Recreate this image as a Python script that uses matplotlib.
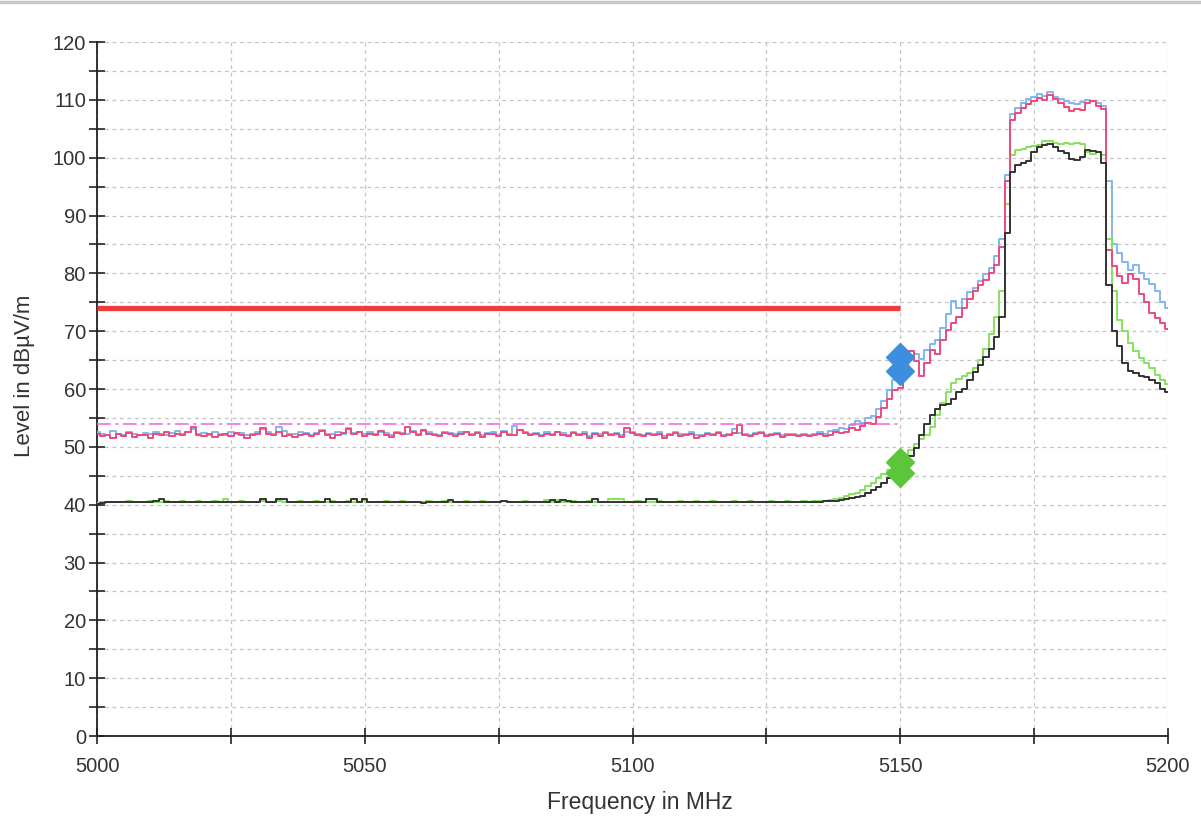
import matplotlib.pyplot as plt
from matplotlib.lines import Line2D
from matplotlib.ticker import MultipleLocator

plt.rcParams['font.family'] = ['Liberation Sans', 'DejaVu Sans']

# frequency grid, 1 MHz steps
freq = list(range(5000, 5201))

# peak trace (pink)
peak_pink = [
    52.3, 51.8, 52.0, 51.6, 52.2, 51.9, 52.4, 51.7, 52.1, 52.0,
    51.6, 52.3, 52.0, 52.5, 51.8, 52.2, 52.0, 52.6, 53.4, 52.1,
    51.9, 52.3, 51.7, 52.0, 52.2, 51.8, 52.4, 52.1, 51.6, 52.0,
    52.3, 53.2, 52.2, 52.0, 52.6, 51.8, 52.1, 51.7, 52.0, 52.3,
    51.8, 52.2, 52.7, 52.0, 51.6, 52.1, 52.4, 53.0, 52.2, 52.5,
    51.9, 52.3, 52.0, 52.8, 52.1, 51.7, 52.4, 52.2, 53.4, 52.6,
    52.1, 52.9, 52.3, 52.0, 51.8, 52.4, 52.2, 51.9, 52.3, 52.5,
    52.0, 52.4, 51.7, 52.2, 52.3, 51.8, 52.6, 52.0, 52.1, 52.9,
    52.4, 52.0, 52.2, 51.8, 52.3, 52.0, 52.5, 52.1, 51.9, 52.4,
    52.0, 52.3, 51.6, 52.2, 51.9, 52.4, 52.0, 52.2, 51.7, 53.3,
    52.4, 52.1, 51.8, 52.2, 52.0, 52.3, 51.6, 52.1, 52.4, 51.9,
    52.1, 52.3, 51.6, 51.9, 52.2, 52.0, 52.4, 51.8, 52.1, 52.4,
    53.8, 52.0, 51.8, 52.2, 52.4, 51.9, 52.0, 52.2, 51.7, 52.1,
    52.0, 51.8, 52.1, 51.9, 52.0, 52.3, 51.9, 52.1, 52.5, 52.4,
    52.6, 53.3, 52.9, 53.6, 54.2, 54.0, 55.2, 56.8, 58.3, 59.9,
    60.2, 62.5, 66.5, 64.8, 62.3, 64.5, 66.8, 66.0, 68.5, 70.2,
    71.5, 72.5, 74.0, 75.5, 77.0, 78.0, 78.8, 80.0, 81.5, 84.5,
    96.0, 106.5, 107.8, 108.6, 109.2, 109.8, 110.3, 110.0, 110.8, 110.2,
    109.5, 108.8, 108.0, 108.4, 108.2, 109.5, 109.8, 109.0, 108.5, 84.0,
    81.2, 79.5, 78.3, 79.8, 79.0, 76.5, 75.0, 73.2, 72.3, 71.5,
    70.3,
]

# max-hold trace (light blue)
peak_blue = [
    52.6, 52.3, 52.1, 52.8, 52.2, 52.0, 52.5, 52.3, 52.1, 52.4,
    52.2, 52.6, 52.3, 52.0, 52.4, 52.8, 52.3, 52.5, 53.0, 52.2,
    52.4, 52.1, 52.5, 52.3, 52.0, 52.6, 52.2, 52.4, 52.1, 52.3,
    52.5, 53.0, 52.6, 52.2, 53.5, 52.7, 52.3, 52.2, 52.5, 52.4,
    52.1, 52.4, 52.9, 52.3, 52.2, 52.5, 52.3, 53.3, 52.4, 52.6,
    52.2, 52.5, 52.3, 52.6, 52.4, 52.0, 52.6, 52.4, 52.3, 52.7,
    52.3, 52.8, 52.5, 52.2, 52.1, 52.6, 52.4, 52.2, 52.5, 52.6,
    52.2, 52.5, 52.0, 52.4, 52.5, 52.1, 52.8, 52.3, 53.6, 52.9,
    52.5, 52.2, 52.4, 52.1, 52.5, 52.3, 52.6, 52.4, 52.1, 52.5,
    52.3, 52.5, 51.9, 52.4, 52.2, 52.6, 52.2, 52.4, 52.0, 52.5,
    52.6, 52.3, 52.0, 52.4, 52.2, 52.5, 51.9, 52.3, 52.6, 52.2,
    52.3, 52.5, 52.0, 52.1, 52.4, 52.2, 52.6, 52.1, 52.3, 53.0,
    52.4, 52.2, 52.0, 52.4, 52.6, 52.1, 52.2, 52.4, 52.0, 52.3,
    52.2, 52.0, 52.3, 52.1, 52.2, 52.5, 52.2, 52.7, 52.9, 53.2,
    53.0, 53.8, 54.5, 54.2, 55.0, 55.4, 56.5, 58.0, 59.8, 61.5,
    62.5, 64.0, 65.5, 66.0, 65.2, 66.8, 67.8, 68.5, 70.5, 73.0,
    75.2, 74.0, 75.5, 76.8, 77.5, 78.6, 79.8, 81.0, 83.0, 86.0,
    97.0, 107.5, 108.6, 109.5, 110.2, 110.5, 111.0, 110.6, 111.3, 110.5,
    110.2, 109.8, 109.5, 109.2, 109.6, 110.0, 109.8, 109.4, 109.0, 96.0,
    85.0, 83.5, 82.0, 80.5, 81.5, 80.0, 79.0, 78.2, 77.0, 75.0,
    74.0,
]

# average trace (light green)
avg_green = [
    40.3, 40.4, 40.4, 40.5, 40.5, 40.5, 40.6, 40.5, 40.5, 40.5,
    40.6, 40.5, 40.5, 40.6, 40.5, 40.5, 40.6, 40.5, 40.5, 40.6,
    40.5, 40.5, 40.6, 40.5, 40.9, 40.5, 40.5, 40.6, 40.5, 40.5,
    40.5, 40.6, 40.5, 40.5, 40.6, 40.5, 40.5, 40.5, 40.6, 40.5,
    40.5, 40.6, 40.5, 40.5, 40.6, 40.5, 40.5, 40.6, 40.5, 40.5,
    40.6, 40.5, 40.5, 40.5, 40.6, 40.5, 40.5, 40.6, 40.5, 40.5,
    40.5, 40.5, 40.6, 40.5, 40.5, 40.6, 40.5, 40.5, 40.5, 40.6,
    40.5, 40.5, 40.6, 40.5, 40.5, 40.5, 40.6, 40.5, 40.5, 40.5,
    40.6, 40.5, 40.5, 40.5, 40.8, 40.5, 40.8, 40.5, 40.5, 40.6,
    40.5, 40.5, 40.6, 40.5, 40.5, 40.5, 40.9, 40.9, 40.9, 40.5,
    40.5, 40.6, 40.5, 40.5, 40.5, 40.6, 40.5, 40.5, 40.5, 40.6,
    40.5, 40.5, 40.6, 40.5, 40.5, 40.6, 40.5, 40.5, 40.5, 40.6,
    40.5, 40.5, 40.6, 40.5, 40.5, 40.5, 40.6, 40.5, 40.5, 40.6,
    40.5, 40.5, 40.6, 40.5, 40.6, 40.6, 40.7, 40.8, 41.0, 41.2,
    41.5, 41.8, 42.0, 42.5, 43.2, 43.8, 44.6, 45.3, 46.0, 46.8,
    47.3, 48.3, 49.5, 50.5, 51.3, 52.0, 53.5, 55.5, 57.5, 59.5,
    61.0, 61.8, 62.3, 62.8, 63.6, 65.0, 67.0, 69.5, 72.5, 77.0,
    92.0, 100.5, 101.3, 101.5, 101.8, 102.0, 102.2, 102.8, 102.8, 102.5,
    102.4, 102.5, 102.4, 102.5, 102.3, 101.0, 100.7, 101.0, 100.5, 86.0,
    77.0, 72.0, 70.0, 68.0, 66.5, 65.3, 64.5, 63.6, 62.5, 61.5,
    60.8,
]

# average trace (dark)
avg_black = [
    40.2, 40.3, 40.4, 40.4, 40.5, 40.4, 40.5, 40.5, 40.4, 40.5,
    40.5, 40.6, 40.9, 40.5, 40.5, 40.4, 40.5, 40.5, 40.4, 40.5,
    40.5, 40.4, 40.5, 40.5, 40.4, 40.5, 40.5, 40.4, 40.5, 40.5,
    40.5, 40.9, 40.5, 40.5, 40.9, 40.9, 40.5, 40.5, 40.4, 40.5,
    40.5, 40.4, 40.5, 40.9, 40.5, 40.5, 40.4, 40.5, 40.9, 40.5,
    40.9, 40.5, 40.4, 40.5, 40.5, 40.4, 40.5, 40.5, 40.4, 40.5,
    40.4, 40.3, 40.4, 40.5, 40.4, 40.5, 40.8, 40.5, 40.4, 40.5,
    40.5, 40.4, 40.5, 40.5, 40.4, 40.5, 40.6, 40.5, 40.5, 40.4,
    40.5, 40.5, 40.4, 40.5, 40.5, 40.8, 40.5, 40.8, 40.6, 40.5,
    40.5, 40.4, 40.5, 40.9, 40.5, 40.5, 40.4, 40.5, 40.5, 40.5,
    40.5, 40.5, 40.5, 41.0, 41.0, 40.5, 40.5, 40.4, 40.5, 40.5,
    40.4, 40.4, 40.4, 40.5, 40.4, 40.4, 40.5, 40.4, 40.5, 40.5,
    40.4, 40.5, 40.5, 40.4, 40.4, 40.5, 40.4, 40.5, 40.4, 40.5,
    40.5, 40.4, 40.5, 40.5, 40.5, 40.5, 40.6, 40.6, 40.7, 40.8,
    40.9, 41.1, 41.3, 41.5, 42.0, 42.5, 43.0, 43.8, 44.6, 45.2,
    45.8, 47.0, 48.5, 49.8, 52.0, 54.0, 55.5, 56.5, 57.2, 57.4,
    58.2, 59.5, 60.0, 61.5, 63.0, 64.2, 65.5, 67.0, 69.0, 72.5,
    87.0, 97.5, 98.8, 99.0, 99.5, 101.0, 101.8, 102.2, 102.4, 101.8,
    101.2, 100.8, 99.8, 99.6, 100.2, 101.3, 101.2, 101.0, 99.0, 78.0,
    70.0, 67.5, 64.5, 63.2, 62.8, 62.3, 62.0, 61.5, 61.0, 60.0,
    59.5,
]

# limit lines
limit_f = [5000, 5150]
limit_peak = 74
limit_avg = 54

# markers at band edge
marker_f = 5150
marker_peak = [65.5, 63.2]
marker_avg = [47.3, 45.5]

fig = plt.figure(figsize=(12.01, 8.22), dpi=100)
ax = fig.add_axes([0.0808, 0.1046, 0.8917, 0.8443])

ax.plot(freq, peak_blue, color='#82b6f0', lw=1.4, drawstyle='steps-mid', zorder=3)
ax.plot(freq, peak_pink, color='#ee4a7c', lw=1.4, drawstyle='steps-mid', zorder=4)
ax.plot(freq, avg_green, color='#86e35c', lw=1.4, drawstyle='steps-mid', zorder=3)
ax.plot(freq, avg_black, color='#333333', lw=1.4, drawstyle='steps-mid', zorder=4)

ax.plot(limit_f, [limit_peak, limit_peak], color='#f03c3c', lw=3.8, solid_capstyle='butt', zorder=5)
ax.plot(limit_f, [limit_avg, limit_avg], color='#f260e6', lw=1.1, dashes=(9, 3, 2, 3), zorder=5)

ax.plot([marker_f] * 2, marker_peak, ls='none', marker='D', ms=14, color='#3b8fde', zorder=6)
ax.plot([marker_f] * 2, marker_avg, ls='none', marker='D', ms=14, color='#5cc63a', zorder=6)

ax.set_xlim(5000, 5200)
ax.set_ylim(0, 120)
ax.xaxis.set_major_locator(MultipleLocator(50))
ax.xaxis.set_minor_locator(MultipleLocator(25))
ax.yaxis.set_major_locator(MultipleLocator(10))
ax.yaxis.set_minor_locator(MultipleLocator(5))

ax.grid(True, which='both', color='#c4c4c4', lw=0.9, dashes=(3, 3))
ax.set_axisbelow(True)

for s in ['top', 'right']:
    ax.spines[s].set_visible(False)
for s in ['left', 'bottom']:
    ax.spines[s].set_color('#222222')
    ax.spines[s].set_linewidth(1.3)

ax.tick_params(axis='both', which='both', direction='inout', length=12, width=1.2,
               color='#222222', labelsize=14.5, labelcolor='#333333')
ax.tick_params(axis='y', which='both', pad=2)
ax.tick_params(axis='x', which='both', pad=9)

ax.set_xlabel('Frequency in MHz', fontsize=16.5, color='#333333')
ax.set_ylabel('Level in dBµV/m', fontsize=16, color='#333333')
ax.xaxis.set_label_coords(0.507, -0.079)
ax.yaxis.set_label_coords(-0.058, 0.519)

# thin border line across the top of the window
fig.add_artist(Line2D([0, 1], [0.997, 0.997], color='#c8c8c8', lw=2.5))

fig.savefig('out.png', dpi=100)
